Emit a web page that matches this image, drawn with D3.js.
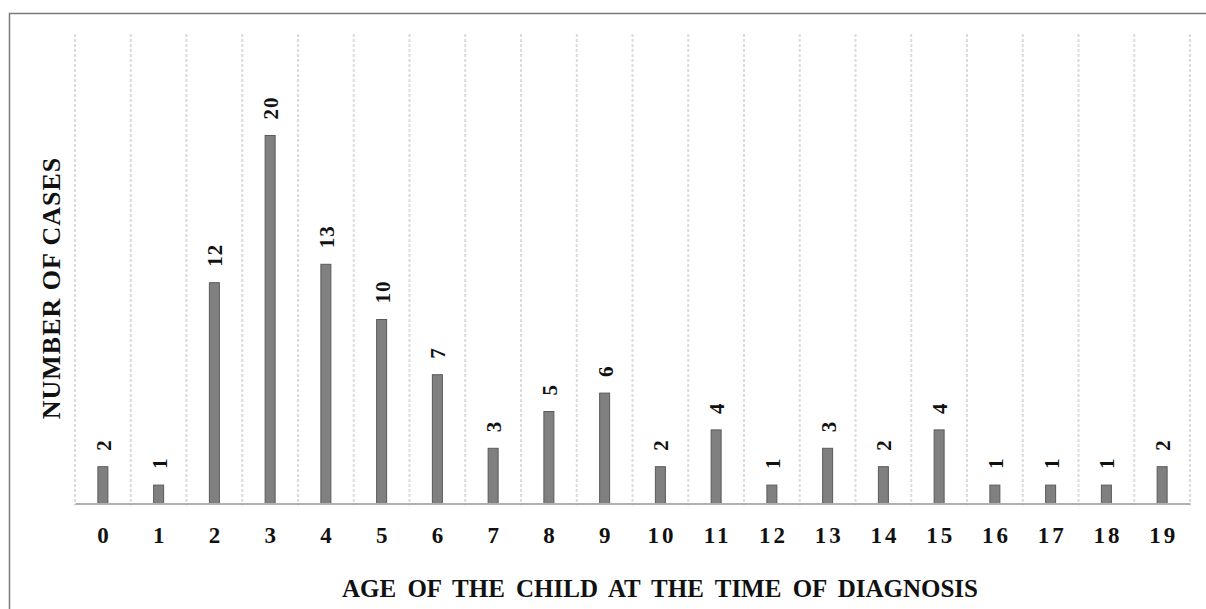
<!DOCTYPE html>
<html>
<head>
<meta charset="utf-8">
<script src="https://cdn.jsdelivr.net/npm/d3@7"></script>
<style>
  body { margin: 0; background: #fff; }
  text { font-family: "Liberation Serif", "Times New Roman", serif; font-weight: bold; fill: #111; }
</style>
</head>
<body>
<svg width="1206" height="609"></svg>
<script>
// ages (categories) and number of cases per age
const ages = ["0","1","2","3","4","5","6","7","8","9","10","11","12","13","14","15","16","17","18","19"];
const cases = [2, 1, 12, 20, 13, 10, 7, 3, 5, 6, 2, 4, 1, 3, 2, 4, 1, 1, 1, 2];
const xTitle = "AGE OF THE CHILD AT THE TIME OF DIAGNOSIS";
const yTitle = "NUMBER OF CASES";

const svg = d3.select("svg");

// outer frame (open on right and bottom, like the cropped figure)
svg.append("path")
    .attr("d", "M9.5,609 L9.5,13.5 L1206,13.5")
    .attr("fill", "none")
    .attr("stroke", "#7a7a7a")
    .attr("stroke-width", 1.5);

const left = 75, right = 1190, bottom = 503.5, gridTop = 34;

const x = d3.scaleBand()
    .domain(ages)
    .range([left, right])
    .paddingInner(0)
    .paddingOuter(0);

const y = d3.scaleLinear()
    .domain([0, 25])
    .range([bottom, bottom - 25 * 18.4]);

// vertical dashed gridlines at the category boundaries
const bounds = ages.map(a => x(a)).concat([right]);
svg.append("g")
    .selectAll("line")
    .data(bounds)
    .join("line")
    .attr("x1", d => d).attr("x2", d => d)
    .attr("y1", gridTop).attr("y2", bottom + 2)
    .attr("stroke", "#dcdcdc")
    .attr("stroke-width", 2)
    .attr("stroke-dasharray", "3,2");

// bars
const barW = 10;
svg.append("g")
    .selectAll("rect")
    .data(cases)
    .join("rect")
    .attr("x", (d, i) => x(ages[i]) + x.bandwidth() / 2 - barW / 2)
    .attr("y", d => y(d))
    .attr("width", barW)
    .attr("height", d => bottom - y(d))
    .attr("fill", "#808080")
    .attr("stroke", "#5a5a5a")
    .attr("stroke-width", 1);

// axis line + tick labels
svg.append("g")
    .attr("transform", "translate(0," + bottom + ")")
    .call(d3.axisBottom(x).tickSize(0).tickPadding(23))
    .call(g => g.select(".domain").attr("stroke", "#b0b0b0").attr("stroke-width", 2))
    .call(g => g.selectAll("text")
        .attr("font-size", 23)
        .attr("letter-spacing", 3)
        .attr("dx", 1.5)
        .attr("fill", "#111")
        .attr("font-family", "Liberation Serif, Times New Roman, serif")
        .attr("font-weight", "bold"));

// value labels (rotated)
svg.append("g")
    .selectAll("text")
    .data(cases)
    .join("text")
    .attr("transform", (d, i) => "translate(" + (x(ages[i]) + x.bandwidth() / 2 + 8) + "," + (y(d) - 16) + ") rotate(-90)")
    .attr("font-size", 21)
    .attr("letter-spacing", 1)
    .text(d => d);

// axis titles
svg.append("text")
    .attr("x", 660)
    .attr("y", 597)
    .attr("text-anchor", "middle")
    .attr("font-size", 25)
    .attr("word-spacing", 5)
    .text(xTitle);

svg.append("text")
    .attr("transform", "translate(60,288) rotate(-90)")
    .attr("text-anchor", "middle")
    .attr("font-size", 26)
    .attr("letter-spacing", 1)
    .text(yTitle);
</script>
</body>
</html>
